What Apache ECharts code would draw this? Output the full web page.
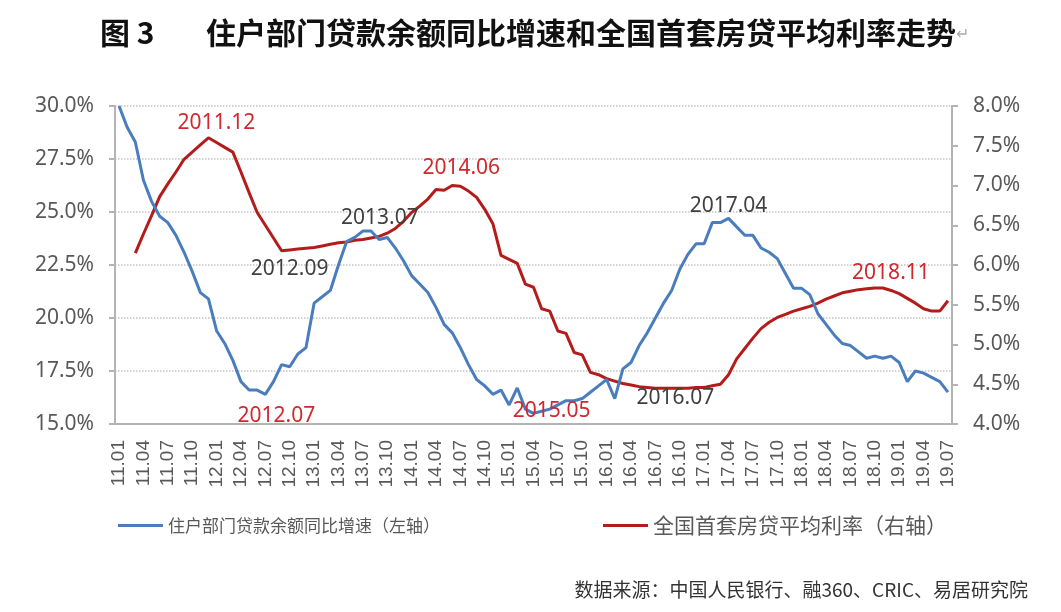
<!DOCTYPE html>
<html>
<head>
<meta charset="utf-8">
<title>住户部门贷款余额同比增速和全国首套房贷平均利率走势</title>
<script src="https://cdn.jsdelivr.net/npm/echarts@6/dist/echarts.min.js"></script>
<style>
html,body{margin:0;padding:0;background:#fff;}
#main{width:1061px;height:612px;}
</style>
</head>
<body>
<div id="main"></div>
<script>
// 横轴月份：2011.01 - 2019.07
var months = [];
for (var y = 11; y <= 19; y++) {
	for (var m = 1; m <= 12; m++) {
		if (y == 19 && m > 7) break;
		months.push(y + '.' + (m < 10 ? '0' + m : m));
	}
}

var seriesNames = ['住户部门贷款余额同比增速（左轴）', '全国首套房贷平均利率（右轴）'];

// 住户部门贷款余额同比增速 %（左轴）
var loanGrowth = [
	30.0, 29.0, 28.3, 26.5, 25.5, 24.8, 24.5, 23.9, 23.1, 22.2, 21.2, 20.9,
	19.4, 18.8, 18.0, 17.0, 16.6, 16.6, 16.4, 17.0, 17.8, 17.7, 18.3, 18.6,
	20.7, 21.0, 21.3, 22.5, 23.6, 23.8, 24.1, 24.1, 23.7, 23.8, 23.3, 22.7,
	22.0, 21.6, 21.2, 20.5, 19.7, 19.3, 18.6, 17.8, 17.1, 16.8, 16.4, 16.6,
	15.9, 16.7, 15.7, 15.5, 15.6, 15.7, 15.9, 16.1, 16.1, 16.2, 16.5, 16.8,
	17.1, 16.2, 17.6, 17.9, 18.7, 19.3, 20.0, 20.7, 21.3, 22.3, 23.0, 23.5,
	23.5, 24.5, 24.5, 24.7, 24.3, 23.9, 23.9, 23.3, 23.1, 22.8, 22.1, 21.4,
	21.4, 21.1, 20.2, 19.7, 19.2, 18.8, 18.7, 18.4, 18.1, 18.2, 18.1, 18.2,
	17.9, 17.0, 17.5, 17.4, 17.2, 17.0, 16.5
];

// 全国首套房贷平均利率 %（右轴），2011.01-02 无数据
var mortgageRate = [
	null, null, 6.15, 6.39, 6.62, 6.86, 7.02, 7.17, 7.33, 7.42, 7.51, 7.60,
	7.54, 7.48, 7.42, 7.17, 6.91, 6.66, 6.50, 6.34, 6.18, 6.19, 6.20, 6.21,
	6.22, 6.24, 6.26, 6.28, 6.29, 6.31, 6.32, 6.34, 6.36, 6.40, 6.46, 6.55,
	6.66, 6.74, 6.83, 6.95, 6.94, 7.00, 6.99, 6.93, 6.85, 6.70, 6.52, 6.12,
	6.07, 6.02, 5.76, 5.72, 5.45, 5.42, 5.17, 5.14, 4.90, 4.87, 4.65, 4.62,
	4.57, 4.54, 4.51, 4.49, 4.47, 4.46, 4.45, 4.45, 4.45, 4.45, 4.45, 4.46,
	4.46, 4.48, 4.50, 4.62, 4.82, 4.95, 5.08, 5.20, 5.28, 5.34, 5.38, 5.42,
	5.45, 5.48, 5.52, 5.57, 5.61, 5.65, 5.67, 5.69, 5.70, 5.71, 5.71, 5.68,
	5.64, 5.58, 5.52, 5.45, 5.42, 5.42, 5.55
];

// 标注的月份
var loanMarks = ['12.07', '13.07', '15.05', '17.04'];
var rateMarks = ['11.12', '12.09', '14.06', '16.07', '18.11'];

var RED = '#d0282c';
var GRAY = '#404040';
// 标注样式：颜色和相对数据点的偏移
var markStyle = {
	'12.07': {color: RED, offset: [11, 22]},
	'13.07': {color: GRAY, offset: [17, -13]},
	'15.05': {color: RED, offset: [10, 0]},
	'17.04': {color: GRAY, offset: [0, -12]},
	'11.12': {color: RED, offset: [8, -15]},
	'12.09': {color: GRAY, offset: [8, 18]},
	'14.06': {color: RED, offset: [9, -17]},
	'16.07': {color: GRAY, offset: [20, 10]},
	'18.11': {color: RED, offset: [8, -15]}
};

function buildMarks(list, values) {
	var out = [];
	for (var i = 0; i < list.length; i++) {
		var idx = months.indexOf(list[i]);
		var st = markStyle[list[i]];
		out.push({
			coord: [idx, values[idx]],
			label: {formatter: '20' + list[i], color: st.color, offset: st.offset}
		});
	}
	return out;
}

var markBase = {
	symbol: 'circle',
	symbolSize: 1,
	silent: true,
	itemStyle: {color: 'rgba(0,0,0,0)'},
	label: {show: true, position: 'inside', fontSize: 21, fontFamily: 'Noto Sans'}
};

var myChart = echarts.init(document.getElementById('main'));
var axisColor = '#b4b4b4';
var labelColor = '#595959';

var option = {
	backgroundColor: '#fff',
	animation: false,
	title: [
		{
			text: '图 3',
			left: 95, top: 13,
			textStyle: {fontSize: 30, fontWeight: 'bold', color: '#111', fontFamily: 'Noto Sans CJK SC'}
		},
		{
			text: '住户部门贷款余额同比增速和全国首套房贷平均利率走势{p|↵}',
			left: 201, top: 13,
			textStyle: {
				fontSize: 30, fontWeight: 'bold', color: '#111', fontFamily: 'Noto Sans CJK SC',
				rich: {p: {fontSize: 16, color: '#aaa', fontWeight: 'normal'}}
			}
		},
		{
			text: '数据来源：中国人民银行、融360、CRIC、易居研究院',
			right: 28, top: 575,
			textStyle: {fontSize: 19, fontWeight: 'normal', color: '#333', fontFamily: 'Noto Sans CJK SC'}
		}
	],
	legend: [
		{
			data: [seriesNames[0]],
			left: 113, top: 512,
			icon: 'rect', itemWidth: 45, itemHeight: 3,
			textStyle: {fontSize: 17, color: labelColor, fontFamily: 'Noto Sans CJK SC'}
		},
		{
			data: [seriesNames[1]],
			left: 598, top: 510,
			icon: 'rect', itemWidth: 45, itemHeight: 3,
			textStyle: {fontSize: 21, color: labelColor, fontFamily: 'Noto Sans CJK SC'}
		}
	],
	grid: {left: 115, right: 109, top: 106, bottom: 188, containLabel: false},
	xAxis: {
		type: 'category',
		data: months,
		boundaryGap: true,
		axisLine: {lineStyle: {color: axisColor, width: 2}},
		axisTick: {show: false},
		axisLabel: {
			interval: 2, rotate: 90, margin: 16,
			fontSize: 19, color: labelColor, fontFamily: 'Liberation Sans'
		},
		splitLine: {show: false}
	},
	yAxis: [
		{
			type: 'value',
			min: 15, max: 30, interval: 2.5,
			axisLine: {show: true, lineStyle: {color: axisColor, width: 2}},
			axisTick: {show: true, length: 6, lineStyle: {color: axisColor, width: 2}},
			axisLabel: {
				margin: 21, fontSize: 21, color: labelColor, fontFamily: 'Noto Sans',
				formatter: function (v) { return v.toFixed(1) + '%'; }
			},
			splitLine: {show: true, lineStyle: {color: '#c4c4c4', type: 'dotted', width: 1.5}}
		},
		{
			type: 'value',
			min: 4, max: 8, interval: 0.5,
			position: 'right',
			axisLine: {show: true, lineStyle: {color: axisColor, width: 2}},
			axisTick: {show: true, length: 6, lineStyle: {color: axisColor, width: 2}},
			axisLabel: {
				margin: 21, fontSize: 21, color: labelColor, fontFamily: 'Noto Sans',
				formatter: function (v) { return v.toFixed(1) + '%'; }
			},
			splitLine: {show: false}
		}
	],
	series: [
		{
			name: seriesNames[0],
			type: 'line',
			yAxisIndex: 0,
			data: loanGrowth,
			symbol: 'none',
			lineStyle: {color: '#4a7dbd', width: 3},
			itemStyle: {color: '#4a7dbd'},
			z: 3,
			markPoint: Object.assign({}, markBase, {data: buildMarks(loanMarks, loanGrowth)})
		},
		{
			name: seriesNames[1],
			type: 'line',
			yAxisIndex: 1,
			data: mortgageRate,
			symbol: 'none',
			lineStyle: {color: '#b41c1c', width: 3},
			itemStyle: {color: '#b41c1c'},
			z: 2,
			markPoint: Object.assign({}, markBase, {data: buildMarks(rateMarks, mortgageRate)})
		}
	]
};
myChart.setOption(option);
</script>
</body>
</html>
